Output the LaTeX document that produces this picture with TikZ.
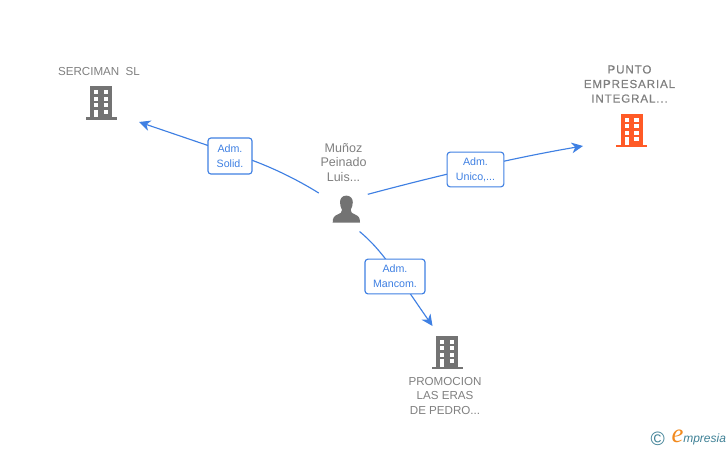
\documentclass[tikz,border=0pt]{standalone}
\usepackage{fontspec}
\setmainfont{Liberation Sans}
\newfontfamily\puntofont[LetterSpace=7.5,FakeBold=0.5]{Liberation Sans}
\newfontfamily\logoserif{Liberation Serif}
\usetikzlibrary{arrows.meta}
\definecolor{txtgray}{HTML}{808080}
\definecolor{icongray}{HTML}{737373}
\definecolor{hiorange}{HTML}{FF5A26}
\definecolor{linkblue}{HTML}{3F80E3}
\definecolor{logoteal}{HTML}{3F8196}
\definecolor{logoorange}{HTML}{F28A1E}
\tikzset{
  x=0.75pt,y=-0.75pt,
  namelabel/.style={inner sep=0pt,align=center,text=txtgray,font=\fontsize{8.7}{10.9}\selectfont},
  personlabelstyle/.style={namelabel,font=\fontsize{9.4}{10.9}\selectfont},
  hotlabel/.style={namelabel,font=\puntofont\fontsize{8.7}{10.9}\selectfont},
  linkbox/.style={draw=linkblue,line width=0.85pt,rounded corners=2.2pt,fill=white,
    text=linkblue,align=center,inner sep=0pt,font=\fontsize{8}{11.2}\selectfont},
  conn/.style={draw=linkblue,line width=0.85pt},
  tip/.style={-{Stealth[length=8.5pt,width=8pt,inset=2.6pt]}},
  iconspot/.style={inner sep=0pt,minimum width=24pt,minimum height=25pt},
  personspot/.style={circle,inner sep=0pt,minimum size=39pt},
}
% building icon, centred on the body's top middle
\newcommand{\buildingicon}[3]{%
  \begin{scope}[shift={(#1,#2)}]
    \fill[#3] (-11,0) rectangle (11,31);
    \fill[#3] (-15.5,31) rectangle (15.5,33.7);
    \foreach \wy in {4,10.6,17,23.5}{
      \fill[white] (-7.1,\wy) rectangle (-2.6,\wy+4);
      \fill[white] (2.7,\wy) rectangle (7.3,\wy+4);
    }
    \fill[white] (-7.1,23.5) rectangle (-2.6,31);
  \end{scope}}
\begin{document}
\begin{tikzpicture}
\useasboundingbox[fill=white] (0,0) rectangle (728,450);

% nodes
\node[iconspot] (serciman) at (101,102) {};
\node[iconspot] (punto) at (632,130) {};
\node[iconspot] (promocion) at (447,352) {};
\node[personspot] (person) at (346,209) {};
\buildingicon{101}{86}{icongray}
\buildingicon{631.7}{113.5}{hiorange}
\buildingicon{447}{335.7}{icongray}

\fill[icongray] (346.3,195.6) .. controls (342.2,195.6) and (340,198.6) .. (340,202.2)
  .. controls (340,205.5) and (341,208) .. (342,209.8)
  .. controls (342.2,212.4) and (340.5,213.4) .. (337.5,214.6)
  .. controls (334,216) and (332.8,217.5) .. (332.7,222.7)
  -- (360,222.7)
  .. controls (359.9,217.5) and (358.7,216) .. (355.2,214.6)
  .. controls (352.2,213.4) and (350.5,212.4) .. (350.7,209.8)
  .. controls (351.7,208) and (352.8,205.5) .. (352.8,202.2)
  .. controls (352.8,198.6) and (350.4,195.6) .. (346.3,195.6) -- cycle;

\node[namelabel] (sercimanlabel) at (99,72) {SERCIMAN\ \ SL};
\node[hotlabel] (puntolabel) at (629.5,84) {PUNTO\\EMPRESARIAL\\INTEGRAL...};
\node[personlabelstyle] (personlabel) at (343.5,162.5) {Muñoz\\Peinado\\Luis...};
\node[namelabel] (promocionlabel) at (445,396) {PROMOCION\\LAS ERAS\\DE PEDRO...};

% free arrow ends
\coordinate (sercimanend) at (139,122);
\coordinate (puntoend) at (583,146);
\coordinate (promocionend) at (432.5,326);

% connectors
\draw[conn,tip,shorten <=4pt] (person.150) .. controls (298,180) and (265,163) .. (230,153) -- (sercimanend);
\draw[conn,tip] (person.34) .. controls (410,183) and (500,160) .. (puntoend);
\draw[conn,tip] (person.-59) .. controls (382,250) and (395,272) .. (promocionend);

% link labels
\node[linkbox,minimum width=33pt,minimum height=27pt] (solid) at (230,156) {Adm.\\Solid.};
\node[linkbox,minimum width=42.5pt,minimum height=26pt] (unico) at (475.5,169.5) {Adm.\\Unico,...};
\node[linkbox,minimum width=45pt,minimum height=26pt] (mancom) at (395,276.5) {Adm.\\Mancom.};

% logo
\node[inner sep=0pt,text=logoteal,font=\fontsize{14.5}{15}\selectfont] (copyright) at (657.7,438.5) {©};
\node[inner sep=0pt,text=logoorange,font=\logoserif\itshape\fontsize{20}{20}\selectfont] (logoe) at (677.5,436.5) {e};
\node[inner sep=0pt,anchor=base west,text=logoteal,font=\itshape\fontsize{9}{10}\selectfont] (logotext) at (683,442) {mpresia};
\end{tikzpicture}
\end{document}
